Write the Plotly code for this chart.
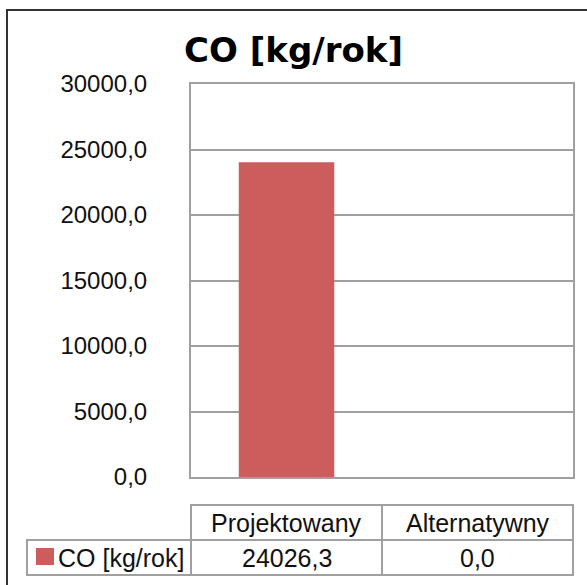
import plotly.graph_objects as go

# ---- data ----
categories = ["Projektowany", "Alternatywny"]
series_name = "CO [kg/rok]"
values = [24026.3, 0.0]
y_ticks = [0, 5000, 10000, 15000, 20000, 25000, 30000]
title_text = "CO [kg/rok]"

# ---- layout geometry (pixels) ----
W, H = 587, 585
PL, PR, PT, PB = 191, 573, 84, 477  # plot area edges


def px(x):
    return (x - PL) / (PR - PL)


def py(y):
    return (PB - y) / (PB - PT)


def fmt(v):
    return f"{v:.1f}".replace(".", ",")


BAR_COLOR = "#CD5C5C"
GRID = "#a0a0a0"
FONT = "Liberation Sans, Arial, sans-serif"
TXT = "#111111"

fig = go.Figure()
fig.add_trace(go.Bar(x=categories, y=values, name=series_name,
                     marker=dict(color=BAR_COLOR, line=dict(width=0))))

shapes = []
# outer chart border
shapes.append(dict(type="rect", xref="paper", yref="paper",
                   x0=px(7), x1=px(610), y0=py(610), y1=py(10),
                   line=dict(color="#333333", width=2), fillcolor="rgba(0,0,0,0)", layer="below"))

# data table grid
T_LEFT, T_C1, T_C2, T_RIGHT = 27, 191, 382, 573
T_TOP, T_MID, T_BOT = 505, 540, 575
line_style = dict(color="#a0a0a0", width=2)
# header row (only value columns)
shapes.append(dict(type="rect", xref="paper", yref="paper",
                   x0=px(T_C1), x1=px(T_RIGHT), y0=py(T_MID), y1=py(T_TOP), line=line_style))
# data row
shapes.append(dict(type="rect", xref="paper", yref="paper",
                   x0=px(T_LEFT), x1=px(T_RIGHT), y0=py(T_BOT), y1=py(T_MID), line=line_style))
# vertical dividers
for xv in (T_C1, T_C2):
    shapes.append(dict(type="line", xref="paper", yref="paper",
                       x0=px(xv), x1=px(xv), y0=py(T_BOT), y1=py(T_TOP), line=line_style))
# legend swatch
shapes.append(dict(type="rect", xref="paper", yref="paper",
                   x0=px(36), x1=px(54), y0=py(565), y1=py(548),
                   line=dict(width=0), fillcolor=BAR_COLOR))

annotations = []
for cat, v in zip(categories, values):
    annotations.append(dict(x=cat, xref="x", y=py(522.5), yref="paper", text=cat,
                            showarrow=False, xanchor="center", yanchor="middle",
                            font=dict(family=FONT, size=25, color=TXT)))
    annotations.append(dict(x=cat, xref="x", y=py(557.5), yref="paper", text=fmt(v),
                            showarrow=False, xanchor="center", yanchor="middle",
                            font=dict(family=FONT, size=25, color=TXT)))
annotations.append(dict(x=px(56), xref="paper", y=py(557.5), yref="paper", text=series_name,
                        showarrow=False, xanchor="left", yanchor="middle",
                        font=dict(family=FONT, size=25, color=TXT)))

fig.update_layout(
    width=W, height=H,
    margin=dict(l=PL, r=W - PR, t=PT, b=H - PB, pad=0),
    paper_bgcolor="white", plot_bgcolor="white",
    showlegend=False,
    bargap=0.5,
    title=dict(text=title_text, x=0.5, xref="container", xanchor="center",
               y=1 - 50 / H, yref="container", yanchor="middle",
               font=dict(family="DejaVu Sans, sans-serif", size=34, color="black", weight="bold")),
    xaxis=dict(showticklabels=False, showgrid=False, zeroline=False, ticks="",
               showline=True, mirror=True, linecolor=GRID, linewidth=2,
               fixedrange=True),
    yaxis=dict(range=[0, 30000], tickvals=y_ticks, ticktext=[fmt(t) for t in y_ticks],
               showgrid=True, gridcolor=GRID, gridwidth=1.5, zeroline=False,
               showline=True, mirror=True, linecolor=GRID, linewidth=2,
               ticks="", ticklabelstandoff=37,
               tickfont=dict(family=FONT, size=24, color=TXT)),
    shapes=shapes,
    annotations=annotations,
)

fig.write_html("out.html", config={"displayModeBar": False},
               post_script="document.body.style.margin='0';document.body.style.overflow='hidden';")
